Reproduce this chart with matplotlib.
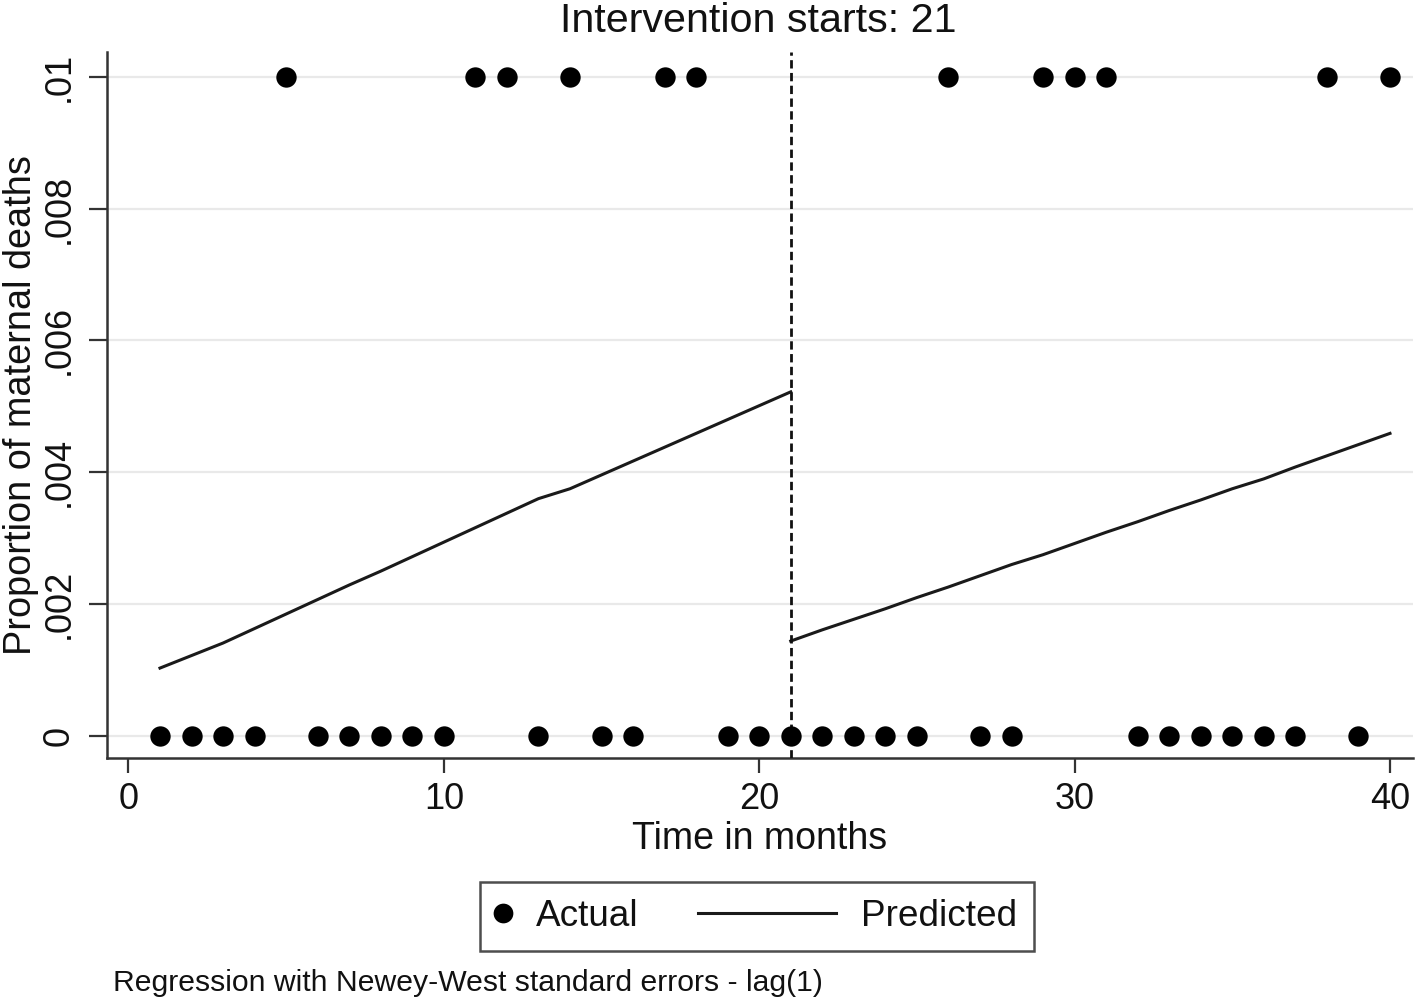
import matplotlib
matplotlib.use("Agg")
import matplotlib.pyplot as plt
from matplotlib.lines import Line2D
from matplotlib.legend_handler import HandlerBase

# ---------------- data ----------------
months = list(range(1, 41))
actual = [0, 0, 0, 0, 0.01, 0, 0, 0, 0, 0,
          0.01, 0.01, 0, 0.01, 0, 0, 0.01, 0.01, 0, 0,
          0, 0, 0, 0, 0, 0.01, 0, 0, 0.01, 0.01,
          0.01, 0, 0, 0, 0, 0, 0, 0.01, 0, 0.01]

pre_months = list(range(1, 22))
pre_pred = [0.00103, 0.00122, 0.00141, 0.00163, 0.00185, 0.00207, 0.00229,
            0.00250, 0.00272, 0.00294, 0.00316, 0.00338, 0.00360, 0.00375,
            0.00396, 0.00417, 0.00438, 0.00459, 0.00480, 0.00501, 0.00522]

post_months = list(range(21, 41))
post_pred = [0.00144, 0.00161, 0.00177, 0.00193, 0.00210, 0.00226, 0.00243,
             0.00260, 0.00275, 0.00292, 0.00309, 0.00325, 0.00342, 0.00358,
             0.00375, 0.00390, 0.00408, 0.00425, 0.00442, 0.00459]

intervention = 21
xticks = [0, 10, 20, 30, 40]
yticks = [0, 0.002, 0.004, 0.006, 0.008, 0.01]
ytick_labels = ["0", ".002", ".004", ".006", ".008", ".01"]

title_text = "Intervention starts: 21"
xlabel_text = "Time in months"
ylabel_text = "Proportion of maternal deaths"
note_text = "Regression with Newey-West standard errors - lag(1)"

# ---------------- style ----------------
plt.rcParams['font.family'] = ['Liberation Sans', 'DejaVu Sans']
TXT = '#111111'
W, H = 1418, 1005
fig = plt.figure(figsize=(W / 100, H / 100), dpi=100)
left, right, bottom, top = 107, 1413, 758, 52
ax = fig.add_axes([left / W, 1 - bottom / H, (right - left) / W, (bottom - top) / H])

ax.set_xlim(-0.68, 40.73)
ax.set_ylim(-0.000334, 0.010375)

for y in yticks:
    ax.axhline(y, color='#e9e9e9', lw=1.6, zorder=0)

ax.plot(pre_months, pre_pred, color='#1a1a1a', lw=2.2, zorder=2)
ax.plot(post_months, post_pred, color='#1a1a1a', lw=2.2, zorder=2)
ax.axvline(intervention, color='#111111', lw=2.0, ls=(0, (3.0, 1.6)), zorder=3)
ax.scatter(months, actual, s=215, color='black', zorder=4, clip_on=False, linewidths=0)

for s in ['top', 'right']:
    ax.spines[s].set_visible(False)
for s in ['left', 'bottom']:
    ax.spines[s].set_color('#333333')
    ax.spines[s].set_linewidth(1.8)

ax.set_xticks(xticks)
ax.set_xticklabels([str(v) for v in xticks])
ax.set_yticks(yticks)
ax.set_yticklabels(ytick_labels, rotation=90, va='center')
ax.tick_params(axis='y', length=13, width=1.6, color='#333333', pad=9,
               labelsize=26, labelcolor=TXT)
ax.tick_params(axis='x', length=11, width=1.6, color='#333333', pad=6,
               labelsize=26, labelcolor=TXT)

ax.set_xlabel(xlabel_text, fontsize=27, color=TXT, labelpad=3)
ax.set_ylabel(ylabel_text, fontsize=27.3, color=TXT)
ax.yaxis.set_label_coords((31 - left) / (right - left), 0.5)
ax.yaxis.label.set_verticalalignment('baseline')

fig.text(758 / W, 1 - 21 / H, title_text, ha='center', va='center',
         fontsize=29.7, color=TXT)
fig.text(113 / W, 1 - 983 / H, note_text, ha='left', va='center',
         fontsize=21.7, color=TXT)


class LongLineHandler(HandlerBase):
    def create_artists(self, legend, orig_handle, xdescent, ydescent,
                       width, height, fontsize, trans):
        y = -ydescent + height / 2
        ln = Line2D([-xdescent - 3.377 * fontsize, -xdescent + 0.363 * fontsize],
                    [y, y], color='#1a1a1a', lw=2.2)
        ln.set_transform(trans)
        return [ln]


h_actual = Line2D([], [], marker='o', ls='none', color='black', ms=14.2,
                  markeredgewidth=0)
h_pred = Line2D([], [], color='#1a1a1a', lw=2.2)
leg = fig.legend([h_actual, h_pred], ["Actual", "Predicted"], ncol=2,
                 loc='center', bbox_to_anchor=(757 / W, 1 - 916.5 / H),
                 fontsize=26.6, handlelength=0.35, handletextpad=0.69,
                 columnspacing=4.99, borderpad=0.45, fancybox=False,
                 frameon=True, edgecolor='#222222',
                 handler_map={h_pred: LongLineHandler()})
leg.get_frame().set_linewidth(1.8)
for t in leg.get_texts():
    t.set_color(TXT)

fig.savefig("out.png", dpi=100)
